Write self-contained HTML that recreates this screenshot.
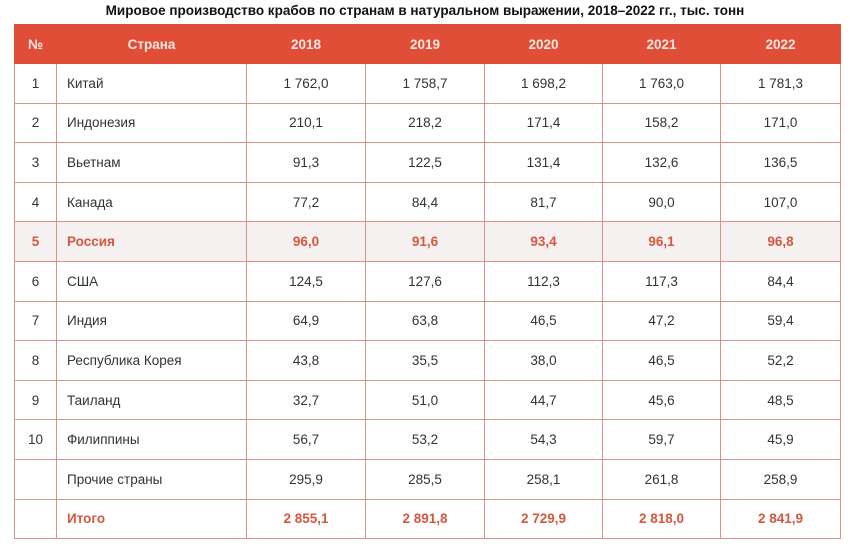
<!DOCTYPE html>
<html><head><meta charset="utf-8"><style>
body{margin:0;width:850px;height:550px;background:#fff;font-family:"Liberation Sans",sans-serif;overflow:hidden;position:relative}
.t{position:absolute;top:3px;left:0;width:850px;text-align:center;font-weight:bold;font-size:13.5px;color:#111}
table{position:absolute;left:14px;top:24px;border-collapse:collapse;width:826px;table-layout:fixed}
td,th{border:1.5px solid #d9948a;font-size:13.5px;color:#333;text-align:center;padding:0;height:38px;box-sizing:border-box}
tr{height:39.6px}
th{background:#e04e38;color:#fbe8e2;font-weight:bold;border-color:#e04e38}
td.c{text-align:left;padding-left:10px}
tr.r td{background:#f6f1f1;color:#d4573e;font-weight:bold}
tr.s td{color:#d4573e;font-weight:bold}
</style></head><body>
<div class="t">Мировое производство крабов по странам в натуральном выражении, 2018–2022 гг., тыс. тонн</div>
<table>
<colgroup><col style="width:42px"><col style="width:190px"><col style="width:119px"><col style="width:119px"><col style="width:118px"><col style="width:118px"><col style="width:120px"></colgroup>
<tr style="height:39px"><th>№</th><th>Страна</th><th>2018</th><th>2019</th><th>2020</th><th>2021</th><th>2022</th></tr>
<tr><td>1</td><td class="c">Китай</td><td>1 762,0</td><td>1 758,7</td><td>1 698,2</td><td>1 763,0</td><td>1 781,3</td></tr>
<tr><td>2</td><td class="c">Индонезия</td><td>210,1</td><td>218,2</td><td>171,4</td><td>158,2</td><td>171,0</td></tr>
<tr><td>3</td><td class="c">Вьетнам</td><td>91,3</td><td>122,5</td><td>131,4</td><td>132,6</td><td>136,5</td></tr>
<tr><td>4</td><td class="c">Канада</td><td>77,2</td><td>84,4</td><td>81,7</td><td>90,0</td><td>107,0</td></tr>
<tr class="r"><td>5</td><td class="c">Россия</td><td>96,0</td><td>91,6</td><td>93,4</td><td>96,1</td><td>96,8</td></tr>
<tr><td>6</td><td class="c">США</td><td>124,5</td><td>127,6</td><td>112,3</td><td>117,3</td><td>84,4</td></tr>
<tr><td>7</td><td class="c">Индия</td><td>64,9</td><td>63,8</td><td>46,5</td><td>47,2</td><td>59,4</td></tr>
<tr><td>8</td><td class="c">Республика Корея</td><td>43,8</td><td>35,5</td><td>38,0</td><td>46,5</td><td>52,2</td></tr>
<tr><td>9</td><td class="c">Таиланд</td><td>32,7</td><td>51,0</td><td>44,7</td><td>45,6</td><td>48,5</td></tr>
<tr><td>10</td><td class="c">Филиппины</td><td>56,7</td><td>53,2</td><td>54,3</td><td>59,7</td><td>45,9</td></tr>
<tr><td></td><td class="c">Прочие страны</td><td>295,9</td><td>285,5</td><td>258,1</td><td>261,8</td><td>258,9</td></tr>
<tr class="s"><td></td><td class="c">Итого</td><td>2 855,1</td><td>2 891,8</td><td>2 729,9</td><td>2 818,0</td><td>2 841,9</td></tr>
</table>
</body></html>
